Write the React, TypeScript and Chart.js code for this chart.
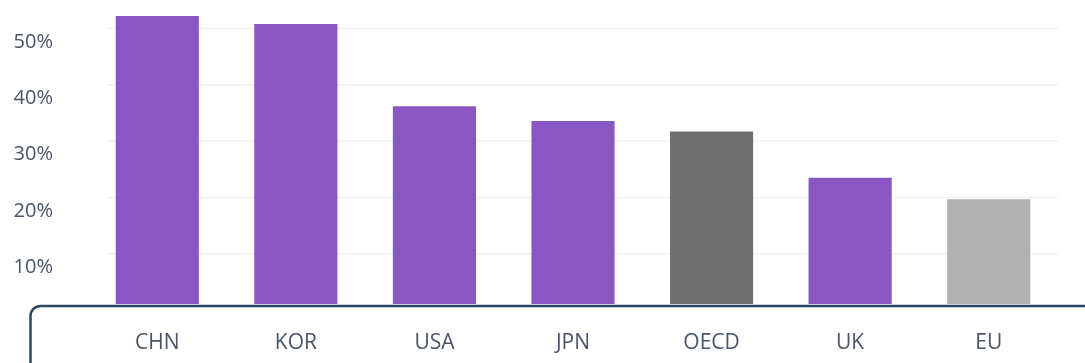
import React, { useEffect, useRef } from "react";
import { Chart, registerables } from "chart.js";

Chart.register(...registerables);

const categories = ["CHN", "KOR", "USA", "JPN", "OECD", "UK", "EU"];
const values = [52.2, 50.8, 36.2, 33.6, 31.7, 23.5, 19.7];
const barColors = ["#8a56c3", "#8a56c3", "#8a56c3", "#8a56c3", "#707070", "#8a56c3", "#b0b0b0"];
const yTicks = [10, 20, 30, 40, 50];

const FONT = "'Open Sans', 'Noto Sans', sans-serif";
const TEXT = "#4a5463";

const gridPlugin = {
  id: "insetGrid",
  beforeDatasetsDraw(chart: any) {
    const { ctx, chartArea } = chart;
    const y = chart.scales.y;
    ctx.save();
    ctx.strokeStyle = "#f1f1f1";
    ctx.lineWidth = 1.5;
    y.ticks.forEach((t: any) => {
      const py = y.getPixelForValue(t.value);
      ctx.beginPath();
      ctx.moveTo(chartArea.left + 19, py);
      ctx.lineTo(chartArea.right, py);
      ctx.stroke();
    });
    ctx.restore();
  },
};

const boxPlugin = {
  id: "bottomBox",
  afterDraw(chart: any) {
    const { ctx, chartArea, width, height } = chart;
    const top = chartArea.bottom + 2;
    const left = 30.5;
    const r = 10;
    ctx.save();
    ctx.strokeStyle = "#2a4863";
    ctx.lineWidth = 2.5;
    ctx.beginPath();
    ctx.moveTo(left, height + 5);
    ctx.lineTo(left, top + r);
    ctx.arcTo(left, top, left + r, top, r);
    ctx.lineTo(width + 5, top);
    ctx.stroke();
    ctx.restore();
  },
};

export default function App() {
  const ref = useRef<HTMLCanvasElement>(null);
  useEffect(() => {
    if (!ref.current) return;
    const chart = new Chart(ref.current, {
      type: "bar",
      data: {
        labels: categories,
        datasets: [
          {
            data: values,
            backgroundColor: barColors,
            borderWidth: 0,
            barPercentage: 0.6,
            categoryPercentage: 1,
          },
        ],
      },
      options: {
        animation: false,
        responsive: false,
        layout: { padding: { left: 0, right: 27, top: 2, bottom: 0 } },
        plugins: { legend: { display: false }, tooltip: { enabled: false } },
        scales: {
          x: {
            grid: { display: false, drawTicks: false },
            border: { display: false },
            ticks: { color: TEXT, font: { family: FONT, size: 21 }, padding: 26 },
            afterFit(scale: any) {
              scale.height = 59;
              scale.paddingLeft = 0;
              scale.paddingRight = 0;
            },
          },
          y: {
            min: 1.1,
            max: 54.7,
            border: { display: false },
            grid: { display: false, drawTicks: false },
            afterBuildTicks(scale: any) {
              scale.ticks = yTicks.map((v) => ({ value: v }));
            },
            ticks: {
              color: TEXT,
              font: { family: FONT, size: 20 },
              padding: 35,
              labelOffset: 13.5,
              callback: (v: any) => `${v}%`,
            },
            afterFit(scale: any) {
              scale.width = 88;
              scale.paddingTop = 0;
              scale.paddingBottom = 0;
            },
          },
        },
      },
      plugins: [gridPlugin, boxPlugin],
    });
    return () => chart.destroy();
  }, []);
  return (
    <div style={{ position: "absolute", left: 0, top: 0, width: 1085, height: 363, background: "#fff" }}>
      <canvas ref={ref} width={1085} height={363} />
    </div>
  );
}
